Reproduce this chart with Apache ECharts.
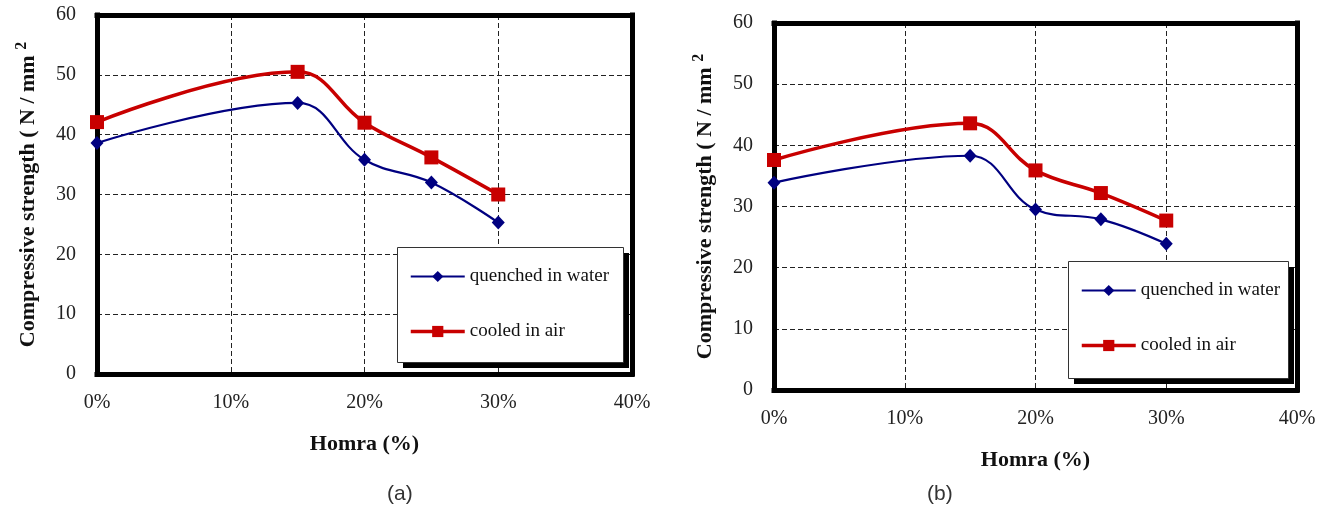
<!DOCTYPE html>
<html>
<head>
<meta charset="utf-8">
<title>Compressive strength vs Homra</title>
<script src="https://cdn.jsdelivr.net/npm/echarts@6/dist/echarts.min.js"></script>
<style>
  html, body { margin: 0; padding: 0; background: #fff; }
  #chart { width: 1331px; height: 518px; }
</style>
</head>
<body>
<div id="chart"></div>
<script>
// Homra content (% replacement) on the x axis
const homraPct = [0, 15, 20, 25, 30];

// Panel (a): compressive strength, N/mm²
const waterA = [38.6, 45.3, 35.8, 32.0, 25.3];
const airA   = [42.1, 50.5, 42.0, 36.2, 30.0];

// Panel (b): compressive strength, N/mm²
const waterB = [33.9, 38.3, 29.5, 27.9, 23.9];
const airB   = [37.6, 43.6, 35.9, 32.2, 27.7];

const seriesNames = ['quenched in water', 'cooled in air'];
const panelLabels = ['(a)', '(b)'];

const SERIF = '"Liberation Serif", "Times New Roman", serif';
const BLUE = '#000080';
const RED = '#C80000';
const WATER_WIDTH = 2.2;
const AIR_WIDTH = 3.5;
const FRAME = { color: '#000', width: 5, cap: 'square' };
const GRIDLINE = { color: '#222', width: 1, type: [5, 3] };

// plot rectangles and legend boxes for the two panels
const panels = [
  { grid: { left: 97, top: 15, width: 535, height: 359 }, legendBox: { x: 397, y: 247, w: 226, h: 115 } },
  { grid: { left: 774, top: 23, width: 523, height: 367 }, legendBox: { x: 1068, y: 261, w: 220, h: 117 } }
];

function pairs(xs, ys) { return xs.map((x, i) => [x, ys[i]]); }

function xAxesOf(idx) {
  return [{
    gridIndex: idx, type: 'value', position: 'bottom', min: 0, max: 40, interval: 10,
    name: 'Homra (%)', nameLocation: 'middle', nameGap: 59,
    nameTextStyle: { fontFamily: SERIF, fontSize: 22, fontWeight: 'bold', color: '#111' },
    axisLine: { show: true, onZero: false, lineStyle: FRAME }, axisTick: { show: false },
    axisLabel: { formatter: '{value}%', fontFamily: SERIF, fontSize: 20, color: '#222', margin: 19 },
    splitLine: { show: true, lineStyle: GRIDLINE }
  }, {
    // top frame edge
    gridIndex: idx, type: 'value', position: 'top', min: 0, max: 40, interval: 10,
    axisLine: { show: true, onZero: false, lineStyle: FRAME }, axisTick: { show: false },
    axisLabel: { show: false }, splitLine: { show: false }
  }];
}

function yAxesOf(idx) {
  return [{
    gridIndex: idx, type: 'value', position: 'left', min: 0, max: 60, interval: 10,
    name: '{a|Compressive strength ( N / mm }{s|2}',
    nameLocation: 'middle', nameGap: 55,
    nameTextStyle: {
      rich: {
        a: { fontFamily: SERIF, fontSize: 22, fontWeight: 'bold', color: '#111', lineHeight: 28 },
        s: { fontFamily: SERIF, fontSize: 16, fontWeight: 'bold', color: '#111', verticalAlign: 'top' }
      }
    },
    axisLine: { show: true, onZero: false, lineStyle: FRAME }, axisTick: { show: false },
    axisLabel: { fontFamily: SERIF, fontSize: 20, color: '#222', margin: 21 },
    splitLine: { show: true, lineStyle: GRIDLINE }
  }, {
    // right frame edge
    gridIndex: idx, type: 'value', position: 'right', min: 0, max: 60, interval: 10,
    axisLine: { show: true, onZero: false, lineStyle: FRAME }, axisTick: { show: false },
    axisLabel: { show: false }, splitLine: { show: false }
  }];
}

function legendOf(box) {
  return {
    left: box.x, top: box.y, orient: 'vertical',
    data: [
      { name: seriesNames[0], lineStyle: { width: WATER_WIDTH, color: BLUE } },
      { name: seriesNames[1], lineStyle: { width: AIR_WIDTH, color: RED } }
    ],
    itemWidth: 54, itemHeight: 14, itemGap: 36,
    padding: [20, 14, 19, 12],
    selectedMode: false,
    textStyle: { fontFamily: SERIF, fontSize: 19, color: '#111' },
    z: 6
  };
}

// white legend panel with a hard drop shadow and a thin outline
function legendFrameOf(box) {
  return [
    { type: 'rect', z: 5, shape: { x: box.x, y: box.y, width: box.w, height: box.h },
      style: { fill: '#fff', shadowColor: '#000', shadowBlur: 0, shadowOffsetX: 6, shadowOffsetY: 6 } },
    { type: 'rect', z: 5, shape: { x: box.x + 0.5, y: box.y + 0.5, width: box.w, height: box.h },
      style: { fill: 'none', stroke: '#333', lineWidth: 1 } }
  ];
}

function waterSeries(idx, ys) {
  return {
    name: seriesNames[0], type: 'line', xAxisIndex: idx * 2, yAxisIndex: idx * 2,
    data: pairs(homraPct, ys), smooth: 0.4,
    symbol: 'diamond', symbolSize: [13, 14],
    lineStyle: { color: BLUE, width: WATER_WIDTH }, itemStyle: { color: BLUE },
    z: 3
  };
}

function airSeries(idx, ys) {
  return {
    name: seriesNames[1], type: 'line', xAxisIndex: idx * 2, yAxisIndex: idx * 2,
    data: pairs(homraPct, ys), smooth: 0.4,
    symbol: 'rect', symbolSize: 14,
    lineStyle: { color: RED, width: AIR_WIDTH }, itemStyle: { color: RED },
    z: 3
  };
}

const chart = echarts.init(document.getElementById('chart'), null, { renderer: 'canvas' });

chart.setOption({
  backgroundColor: '#fff',
  animation: false,
  grid: panels.map(p => Object.assign({ show: false }, p.grid)),
  xAxis: [...xAxesOf(0), ...xAxesOf(1)],
  yAxis: [...yAxesOf(0), ...yAxesOf(1)],
  legend: panels.map(p => legendOf(p.legendBox)),
  series: [
    waterSeries(0, waterA), airSeries(0, airA),
    waterSeries(1, waterB), airSeries(1, airB)
  ],
  graphic: [
    ...legendFrameOf(panels[0].legendBox),
    ...legendFrameOf(panels[1].legendBox),
    { type: 'text', left: 387, top: 484,
      style: { text: panelLabels[0], font: '21px "Liberation Sans", Arial, sans-serif', fill: '#333' } },
    { type: 'text', left: 927, top: 484,
      style: { text: panelLabels[1], font: '21px "Liberation Sans", Arial, sans-serif', fill: '#333' } }
  ]
});
</script>
</body>
</html>
